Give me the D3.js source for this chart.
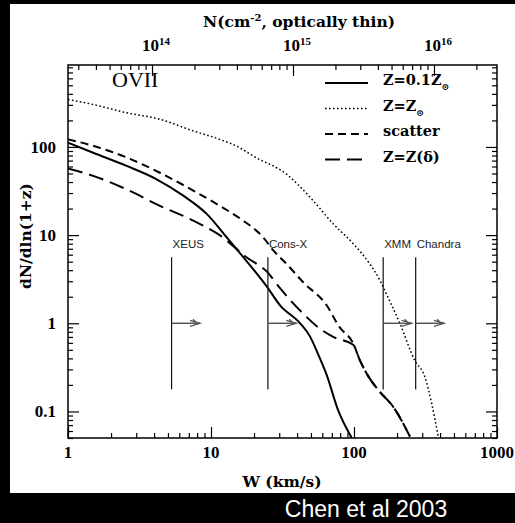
<!DOCTYPE html>
<html>
<head>
<meta charset="utf-8">
<script src="https://cdn.jsdelivr.net/npm/d3@7"></script>
<style>
  body { margin: 0; background: #000; }
  svg { display: block; }
</style>
</head>
<body>
<svg width="515" height="523"></svg>
<script>
// W (km/s) and dN/dln(1+z)
const wSolid = [1, 1.5, 2.57, 4.17, 6.4, 9.33, 12.9, 16, 24.6, 30.4, 42, 49, 56, 64.4, 77.3, 96.5];
const nSolid = [112, 86, 61, 43, 28, 17.4, 9.4, 6.2, 2.6, 1.6, 1.0, 0.72, 0.45, 0.26, 0.104, 0.05];

const wDot = [1, 1.5, 2.57, 4.39, 7.52, 11.5, 15.9, 19.7, 33.8, 51.9, 71.6, 98.8, 129, 152, 160, 209, 266, 313, 349, 388];
const nDot = [346, 303, 244, 206, 152, 122, 98, 79, 49, 24.5, 13.4, 8.0, 4.7, 3.06, 2.57, 1.0, 0.38, 0.247, 0.124, 0.052];

// "scatter" and Z(delta) share the same tail above W ~ 100
const wTail = [110, 126, 151, 188, 246];
const nTail = [0.38, 0.25, 0.168, 0.113, 0.052];

const wDash = [1, 1.5, 2.57, 4.39, 7.52, 11.5, 15.9, 23.2, 27.3, 33.8, 44.3, 64.4, 79, 98.8];
const nDash = [122, 103, 76, 51, 32, 21.5, 15.5, 9.4, 6.7, 4.7, 2.9, 1.6, 0.91, 0.59];

const wLong = [1, 1.5, 2.57, 4.39, 7.52, 11.5, 17.7, 24.8, 30.4, 41.9, 57.7, 71.6, 98.8];
const nLong = [57, 47, 33, 21.5, 14.6, 10, 5.6, 3.8, 2.5, 1.4, 0.87, 0.70, 0.57];

// detection limits
const instruments = ['XEUS', 'Cons-X', 'XMM', 'Chandra'];
const instrumentW = [5.3, 25, 160, 270];

const yTickLabels = ['0.1', '1', '10', '100'];
const xTickLabels = ['1', '10', '100', '1000'];
const nTickExp = [14, 15, 16];

const svg = d3.select('svg');
const width = +svg.attr('width');
const height = +svg.attr('height');
const margin = {top: 65, right: 18, bottom: 85, left: 68};
const innerWidth = width - margin.left - margin.right;
const innerHeight = height - margin.top - margin.bottom;

const serif = '"Liberation Serif", "DejaVu Serif", serif';
const wide = '"DejaVu Serif", "Liberation Serif", serif';
const sans = '"Liberation Sans", Arial, sans-serif';

svg.append('defs').append('clipPath').attr('id', 'plotclip')
    .append('rect')
    .attr('x', margin.left).attr('y', margin.top)
    .attr('width', innerWidth).attr('height', innerHeight);

// paper + caption
svg.append('rect').attr('width', width).attr('height', height).attr('fill', '#000');
svg.append('rect').attr('x', 10).attr('y', 4).attr('width', width - 10).attr('height', 489).attr('fill', '#fff');
svg.append('text')
    .attr('x', 366).attr('y', 517)
    .attr('text-anchor', 'middle')
    .attr('font-family', sans).attr('font-size', 23)
    .attr('fill', '#fff')
    .text('Chen et al 2003');

// scales in page coordinates
const xscale = d3.scaleLog().domain([1, 1000]).range([margin.left, margin.left + innerWidth]);
const yscale = d3.scaleLog().domain([0.05, 850]).range([margin.top + innerHeight, margin.top]);
// column density on top, optically thin: N proportional to W
const nscale = d3.scaleLog().domain([Math.pow(10, 13.404), Math.pow(10, 16.447)]).range([margin.left, margin.left + innerWidth]);

// tick positions for a log domain
const logTicks = dom => {
    const out = [];
    for (let e = Math.floor(Math.log10(dom[0])); e <= Math.ceil(Math.log10(dom[1])); e++) {
        for (let m = 1; m < 10; m++) {
            const v = m * Math.pow(10, e);
            if (v >= dom[0] * 0.9999 && v <= dom[1] * 1.0001) out.push(v);
        }
    }
    return out;
};
const isMajor = v => Math.abs(Math.log10(v) - Math.round(Math.log10(v))) < 1e-6;

const addTicks = (axisFn, scale, pos) => {
    const all = logTicks(scale.domain());
    const minor = all.filter(v => !isMajor(v));
    const major = all.filter(isMajor);
    [[minor, 5], [major, 11]].forEach(([vals, len]) => {
        const a = svg.append('g')
            .attr('transform', pos)
            .call(axisFn(scale).tickValues(vals).tickSize(-len).tickFormat(''));
        a.select('.domain').remove();
        a.selectAll('text').remove();
        a.selectAll('line').attr('stroke', '#000').attr('stroke-width', 1.2);
    });
};

addTicks(d3.axisBottom, xscale, `translate(0, ${margin.top + innerHeight})`);
addTicks(d3.axisTop, nscale, `translate(0, ${margin.top})`);
addTicks(d3.axisLeft, yscale, `translate(${margin.left}, 0)`);
addTicks(d3.axisRight, yscale, `translate(${margin.left + innerWidth}, 0)`);

svg.append('rect')
    .attr('x', margin.left).attr('y', margin.top)
    .attr('width', innerWidth).attr('height', innerHeight)
    .attr('fill', 'none').attr('stroke', '#000').attr('stroke-width', 1.5);

// tick labels
svg.selectAll('.xlab').data(xTickLabels).enter().append('text')
    .attr('class', 'xlab')
    .attr('x', d => xscale(+d)).attr('y', margin.top + innerHeight + 20)
    .attr('text-anchor', 'middle')
    .attr('font-family', serif).attr('font-weight', 'bold').attr('font-size', 17)
    .text(d => d);

svg.selectAll('.ylab').data(yTickLabels).enter().append('text')
    .attr('class', 'ylab')
    .attr('x', margin.left - 12).attr('y', d => yscale(+d) + 6)
    .attr('text-anchor', 'end')
    .attr('font-family', serif).attr('font-weight', 'bold').attr('font-size', 17)
    .text(d => d);

const nlab = svg.selectAll('.nlab').data(nTickExp).enter().append('text')
    .attr('class', 'nlab')
    .attr('x', d => nscale(Math.pow(10, d)) + 4).attr('y', margin.top - 14)
    .attr('text-anchor', 'middle')
    .attr('font-family', serif).attr('font-weight', 'bold').attr('font-size', 17);
nlab.append('tspan').text('10');
nlab.append('tspan').attr('dy', -6).attr('font-size', 11).text(d => d);

// axis titles
const ntitle = svg.append('text')
    .attr('x', 299).attr('y', 27)
    .attr('text-anchor', 'middle')
    .attr('font-family', wide).attr('font-weight', 'bold').attr('font-size', 15.5);
ntitle.append('tspan').text('N(cm');
ntitle.append('tspan').attr('dy', -6).attr('font-size', 10).text('-2');
ntitle.append('tspan').attr('dy', 6).text(', optically thin)');

svg.append('text')
    .attr('x', 282).attr('y', 487)
    .attr('text-anchor', 'middle')
    .attr('font-family', wide).attr('font-weight', 'bold').attr('font-size', 15.5)
    .text('W (km/s)');

svg.append('text')
    .attr('transform', 'translate(31, 236) rotate(-90)')
    .attr('text-anchor', 'middle')
    .attr('font-family', wide).attr('font-weight', 'bold').attr('font-size', 15.5)
    .text('dN/dln(1+z)');

svg.append('text')
    .attr('x', margin.left + 44).attr('y', margin.top + 22)
    .attr('font-family', serif).attr('font-size', 22)
    .text('OVII');

// curves
const line = d3.line()
    .x(d => xscale(d[0]))
    .y(d => yscale(d[1]))
    .curve(d3.curveMonotoneX);

const series = [
    {w: wSolid, n: nSolid, dash: null, sw: 2},
    {w: wDot, n: nDot, dash: '1.6,2.4', sw: 1.5},
    {w: wDash.concat(wTail), n: nDash.concat(nTail), dash: '8,5', sw: 2},
    {w: wLong.concat(wTail), n: nLong.concat(nTail), dash: '15,7', sw: 2}
];

const curves = svg.append('g').attr('clip-path', 'url(#plotclip)');
curves.selectAll('path').data(series).enter().append('path')
    .attr('d', d => line(d3.zip(d.w, d.n)))
    .attr('fill', 'none')
    .attr('stroke', '#000')
    .attr('stroke-width', d => d.sw)
    .attr('stroke-dasharray', d => d.dash);

// legend
const legendLabels = [['Z=0.1Z', '\u2299'], ['Z=Z', '\u2299'], ['scatter', ''], ['Z=Z(\u03b4)', '']];
const legend = svg.selectAll('.leg').data(series).enter().append('g')
    .attr('class', 'leg')
    .attr('transform', (d, i) => `translate(${margin.left + 257}, ${margin.top + 18 + i * 25.5})`);
legend.append('line')
    .attr('x1', 0).attr('x2', 43)
    .attr('stroke', '#000')
    .attr('stroke-width', d => d.sw)
    .attr('stroke-dasharray', d => d.dash);
const legText = legend.append('text')
    .attr('x', 58).attr('y', 2)
    .attr('font-family', wide).attr('font-weight', 'bold').attr('font-size', 14.5);
legText.append('tspan').text((d, i) => legendLabels[i][0]);
legText.append('tspan').attr('dy', 5).attr('font-size', 9).text((d, i) => legendLabels[i][1]);

// detection limits with arrows
const inst = svg.selectAll('.inst').data(instruments).enter().append('g').attr('class', 'inst');
inst.append('line')
    .attr('x1', (d, i) => xscale(instrumentW[i]))
    .attr('x2', (d, i) => xscale(instrumentW[i]))
    .attr('y1', yscale(Math.pow(10, 0.75)))
    .attr('y2', yscale(Math.pow(10, -0.75)))
    .attr('stroke', '#111').attr('stroke-width', 1.2);
inst.append('text')
    .attr('x', (d, i) => xscale(instrumentW[i]) + 1)
    .attr('y', yscale(Math.pow(10, 0.75)) - 9)
    .attr('font-family', sans).attr('font-size', 11.5)
    .attr('fill', '#222')
    .text(d => d);
inst.append('line')
    .attr('x1', (d, i) => xscale(instrumentW[i]))
    .attr('x2', (d, i) => xscale(instrumentW[i] * 1.58))
    .attr('y1', yscale(1)).attr('y2', yscale(1))
    .attr('stroke', '#555').attr('stroke-width', 1.5);
inst.append('path')
    .attr('d', (d, i) => {
        const x0 = xscale(instrumentW[i] * 1.58), y0 = yscale(1);
        return `M${x0 - 10},${y0 - 3} L${x0},${y0} L${x0 - 10},${y0 + 3} M${x0 - 7},${y0 - 4} L${x0 - 3},${y0}`;
    })
    .attr('fill', 'none').attr('stroke', '#555').attr('stroke-width', 1.3);
</script>
</body>
</html>
